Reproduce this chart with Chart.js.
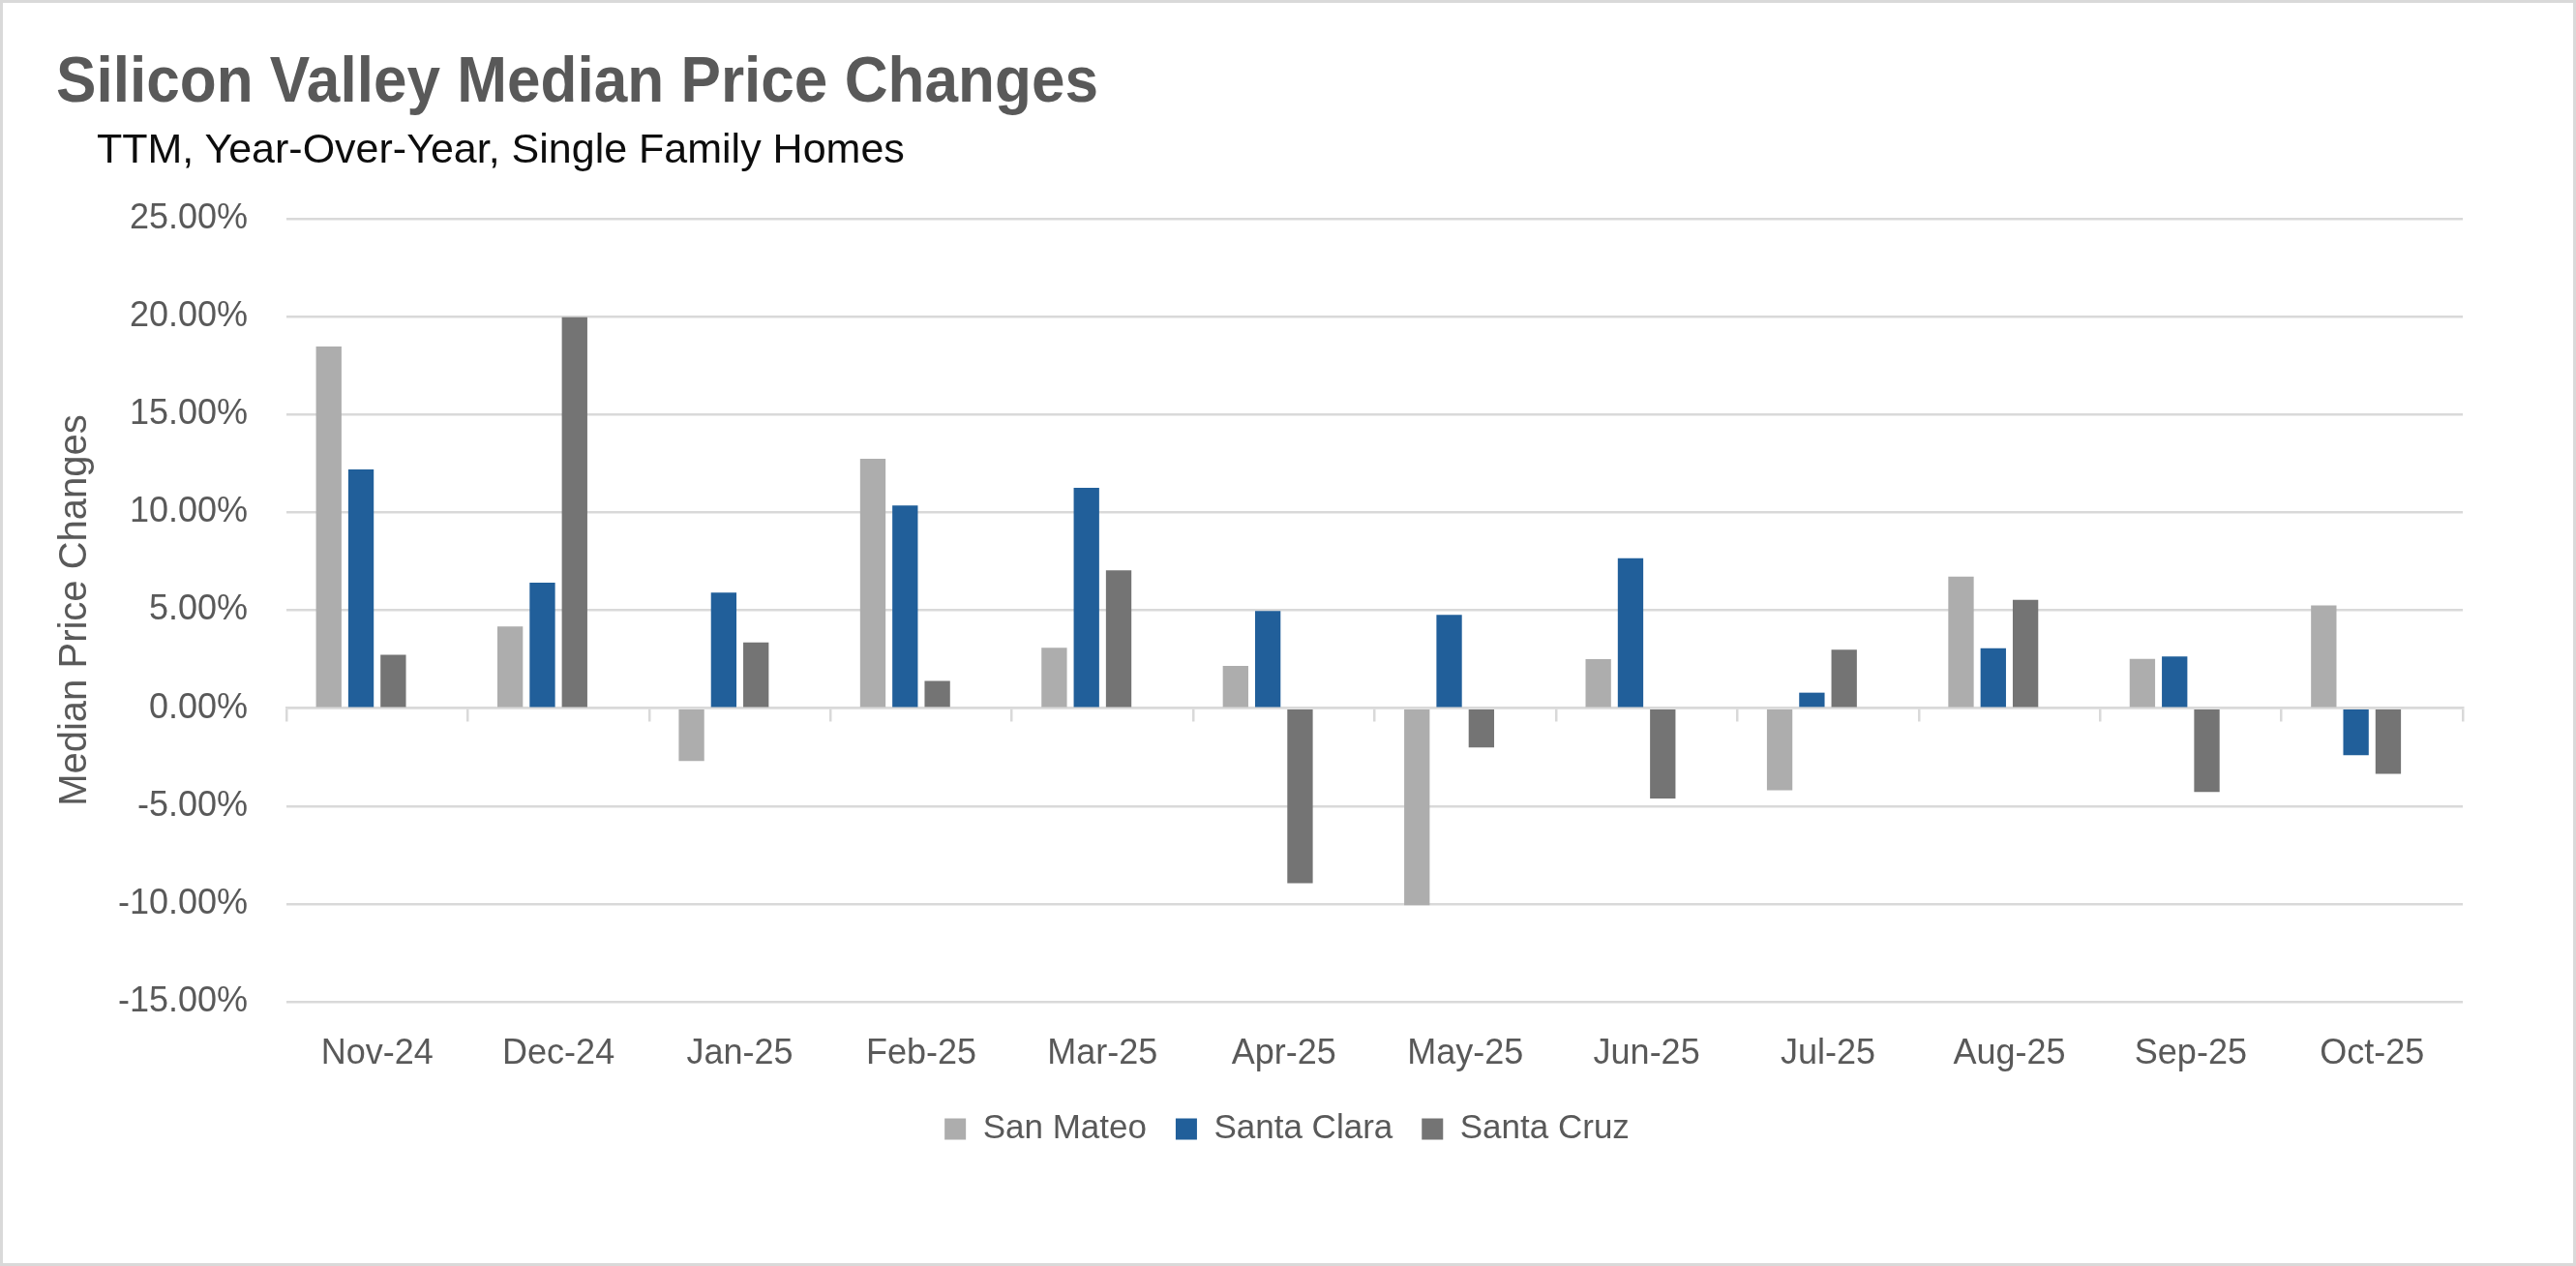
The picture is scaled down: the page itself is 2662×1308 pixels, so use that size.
<!DOCTYPE html>
<html>
<head>
<meta charset="utf-8">
<script src="https://cdn.jsdelivr.net/npm/chart.js@4.4.1/dist/chart.umd.min.js"></script>
<style>
    body { margin: 0; background: #fff; }
    #wrap { position: relative; width: 2662px; height: 1308px; overflow: hidden; }
    #frame { position: absolute; left: 0; top: 0; width: 2662px; height: 1308px; box-sizing: border-box; border: 3px solid #d9d9d9; pointer-events: none; z-index: 3; }
    #title { position: absolute; left: 58px; top: 48px; font: bold 67px "Liberation Sans", Arial, sans-serif; line-height: 67px; color: #595959; white-space: nowrap; transform: scaleX(0.927); transform-origin: left top; z-index: 2; }
    #subtitle { position: absolute; left: 100px; top: 132px; font: 43px "Liberation Sans", Arial, sans-serif; line-height: 43px; color: #0d0d0d; white-space: nowrap; z-index: 2; }
    canvas { position: absolute; left: 0; top: 0; }
</style>
</head>
<body>
<div id="wrap">
    <div id="title">Silicon Valley Median Price Changes</div>
    <div id="subtitle">TTM, Year-Over-Year, Single Family Homes</div>
    <canvas id="priceChart" width="2662" height="1308"></canvas>
    <div id="frame"></div>
</div>
<script>
const months = ['Nov-24', 'Dec-24', 'Jan-25', 'Feb-25', 'Mar-25', 'Apr-25', 'May-25', 'Jun-25', 'Jul-25', 'Aug-25', 'Sep-25', 'Oct-25'];
const sanMateo = [18.47, 4.17, -2.70, 12.74, 3.09, 2.16, -10.07, 2.50, -4.20, 6.72, 2.52, 5.25];
const santaClara = [12.20, 6.41, 5.90, 10.35, 11.26, 4.96, 4.77, 7.66, 0.79, 3.06, 2.64, -2.41];
const santaCruz = [2.72, 19.97, 3.35, 1.39, 7.04, -8.94, -2.01, -4.62, 2.98, 5.53, -4.28, -3.35];
// the source chart keeps an empty fourth slot in every group
const emptySlot = months.map(() => null);

window.addEventListener('load', setup);

function setup() {
    const ctx = document.getElementById('priceChart').getContext('2d');
    const textColor = '#595959';
    const gridColor = '#d9d9d9';

    const barOpts = {
        categoryPercentage: 0.711,
        barPercentage: 0.79,
        borderWidth: 0,
        xAxisID: 'x'
    };

    new Chart(ctx, {
        type: 'bar',
        data: {
            labels: months,
            datasets: [
                { label: 'San Mateo', data: sanMateo, backgroundColor: '#adadad', ...barOpts },
                { label: 'Santa Clara', data: santaClara, backgroundColor: '#215f9a', ...barOpts },
                { label: 'Santa Cruz', data: santaCruz, backgroundColor: '#747474', ...barOpts },
                { label: '', data: emptySlot, backgroundColor: 'rgba(0,0,0,0)', ...barOpts }
            ]
        },
        options: {
            responsive: false,
            animation: false,
            devicePixelRatio: 1,
            layout: { padding: { top: 226, right: 117, bottom: 114, left: 115 } },
            font: { family: '"Liberation Sans", Arial, sans-serif' },
            plugins: {
                tooltip: { enabled: false },
                title: { display: false },
                legend: {
                    position: 'bottom',
                    labels: {
                        boxWidth: 22,
                        boxHeight: 22,
                        padding: 30,
                        color: textColor,
                        font: { size: 35, family: '"Liberation Sans", Arial, sans-serif' },
                        filter: item => item.datasetIndex < 3
                    }
                }
            },
            scales: {
                x: {
                    type: 'category',
                    position: 'bottom',
                    grid: { display: false, drawTicks: false },
                    border: { display: false },
                    ticks: {
                        color: textColor,
                        padding: 32,
                        maxRotation: 0,
                        font: { size: 36, family: '"Liberation Sans", Arial, sans-serif' }
                    },
                    afterFit: s => { s.height = 84; }
                },
                x2: {
                    type: 'category',
                    position: { y: 0 },
                    offset: true,
                    grid: {
                        display: true,
                        offset: true,
                        drawOnChartArea: false,
                        drawTicks: true,
                        tickLength: 13,
                        color: gridColor,
                        lineWidth: 2.5
                    },
                    border: { display: true, color: gridColor, width: 2.5 },
                    ticks: { display: false }
                },
                y: {
                    min: -15,
                    max: 25,
                    grid: { color: gridColor, lineWidth: 2.5, drawTicks: false },
                    border: { display: false },
                    ticks: {
                        stepSize: 5,
                        padding: 40,
                        color: textColor,
                        font: { size: 36, family: '"Liberation Sans", Arial, sans-serif' },
                        callback: v => v.toFixed(2) + '%'
                    },
                    title: {
                        display: true,
                        text: 'Median Price Changes',
                        color: textColor,
                        padding: { top: -61, bottom: 0 },
                        font: { size: 40, family: '"Liberation Sans", Arial, sans-serif' }
                    },
                    afterFit: s => { s.width = 181; }
                }
            }
        }
    });
}
</script>
</body>
</html>
